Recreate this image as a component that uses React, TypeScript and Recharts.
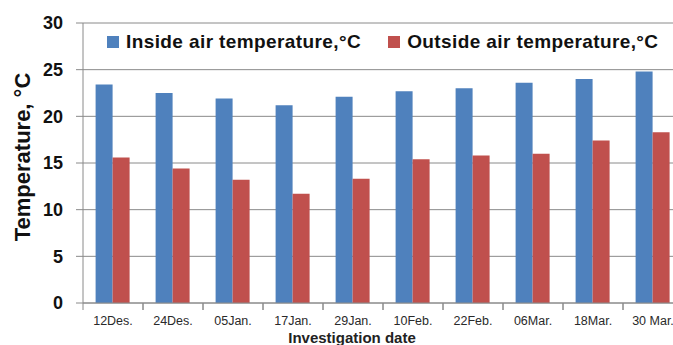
import React from 'react';
import { BarChart, Bar, XAxis, YAxis, CartesianGrid, Legend } from 'recharts';

const dates = ['12Des.', '24Des.', '05Jan.', '17Jan.', '29Jan.', '10Feb.', '22Feb.', '06Mar.', '18Mar.', '30 Mar.'];
const insideTemp = [23.4, 22.5, 21.9, 21.2, 22.1, 22.7, 23.0, 23.6, 24.0, 24.8];
const outsideTemp = [15.6, 14.4, 13.2, 11.7, 13.3, 15.4, 15.8, 16.0, 17.4, 18.3];
const yTicks = [0, 5, 10, 15, 20, 25, 30];

const data = dates.map((d, i) => ({ date: d, inside: insideTemp[i], outside: outsideTemp[i] }));

const FONT = '"Liberation Sans", Arial, sans-serif';
const GRID = '#8a8a8a';

// labels centred in the band, tick marks on the band edges
const DateTick = (props: any) => {
  const { x, y, payload } = props;
  const half = payload.offset || 0;
  return (
    <g>
      <line x1={x - half} y1={y} x2={x - half} y2={y + 7} stroke={GRID} />
      <line x1={x + half} y1={y} x2={x + half} y2={y + 7} stroke={GRID} />
      <text x={x} y={y + 22} textAnchor="middle" fontFamily={FONT} fontSize={12.5} fill="#2a2a2a">
        {payload.value}
      </text>
    </g>
  );
};

const renderLegend = (props: any) => (
  <div style={{ display: 'flex', alignItems: 'center', fontFamily: FONT, fontWeight: 700, fontSize: 19, letterSpacing: 0.4, color: '#111', whiteSpace: 'nowrap' }}>
    {props.payload.map((e: any, i: number) => (
      <div key={i} style={{ display: 'flex', alignItems: 'center', marginRight: 27 }}>
        <span style={{ display: 'inline-block', width: 12, height: 12, background: e.color, marginRight: 7 }} />
        <span>{e.value}</span>
      </div>
    ))}
  </div>
);

export default function App() {
  return (
    <div style={{ position: 'absolute', left: 0, top: 0, width: 673, height: 345, overflow: 'hidden', background: '#fff' }}>
      <BarChart width={683} height={345} data={data} margin={{ top: 23, right: 0, bottom: 0, left: 0 }} barCategoryGap="21%" barGap={0}>
        <CartesianGrid vertical={false} stroke={GRID} />
        <XAxis
          dataKey="date"
          height={42}
          interval={0}
          axisLine={{ stroke: GRID }}
          tickLine={false}
          tickSize={0}
          tickMargin={0}
          tick={<DateTick />}
          label={{ value: 'Investigation date', position: 'insideBottom', offset: 2, dx: -31, fontFamily: FONT, fontWeight: 700, fontSize: 15, fill: '#222' }}
        />
        <YAxis
          width={83}
          domain={[0, 30]}
          ticks={yTicks}
          axisLine={{ stroke: GRID }}
          tickLine={{ stroke: GRID }}
          tickSize={7}
          tickMargin={13}
          tick={{ fontFamily: FONT, fontWeight: 700, fontSize: 18, fill: '#111' }}
          label={{ value: 'Temperature, °C', angle: -90, position: 'center', dx: -19, dy: -6, fontFamily: FONT, fontWeight: 700, fontSize: 22, fill: '#111' }}
        />
        <Legend layout="horizontal" verticalAlign="middle" align="center" wrapperStyle={{ top: 31, left: 107, width: 'auto' }} content={renderLegend} />
        <Bar dataKey="inside" name="Inside air temperature,°C" fill="#4F81BD" isAnimationActive={false} />
        <Bar dataKey="outside" name="Outside air temperature,°C" fill="#C0504D" isAnimationActive={false} />
      </BarChart>
    </div>
  );
}
